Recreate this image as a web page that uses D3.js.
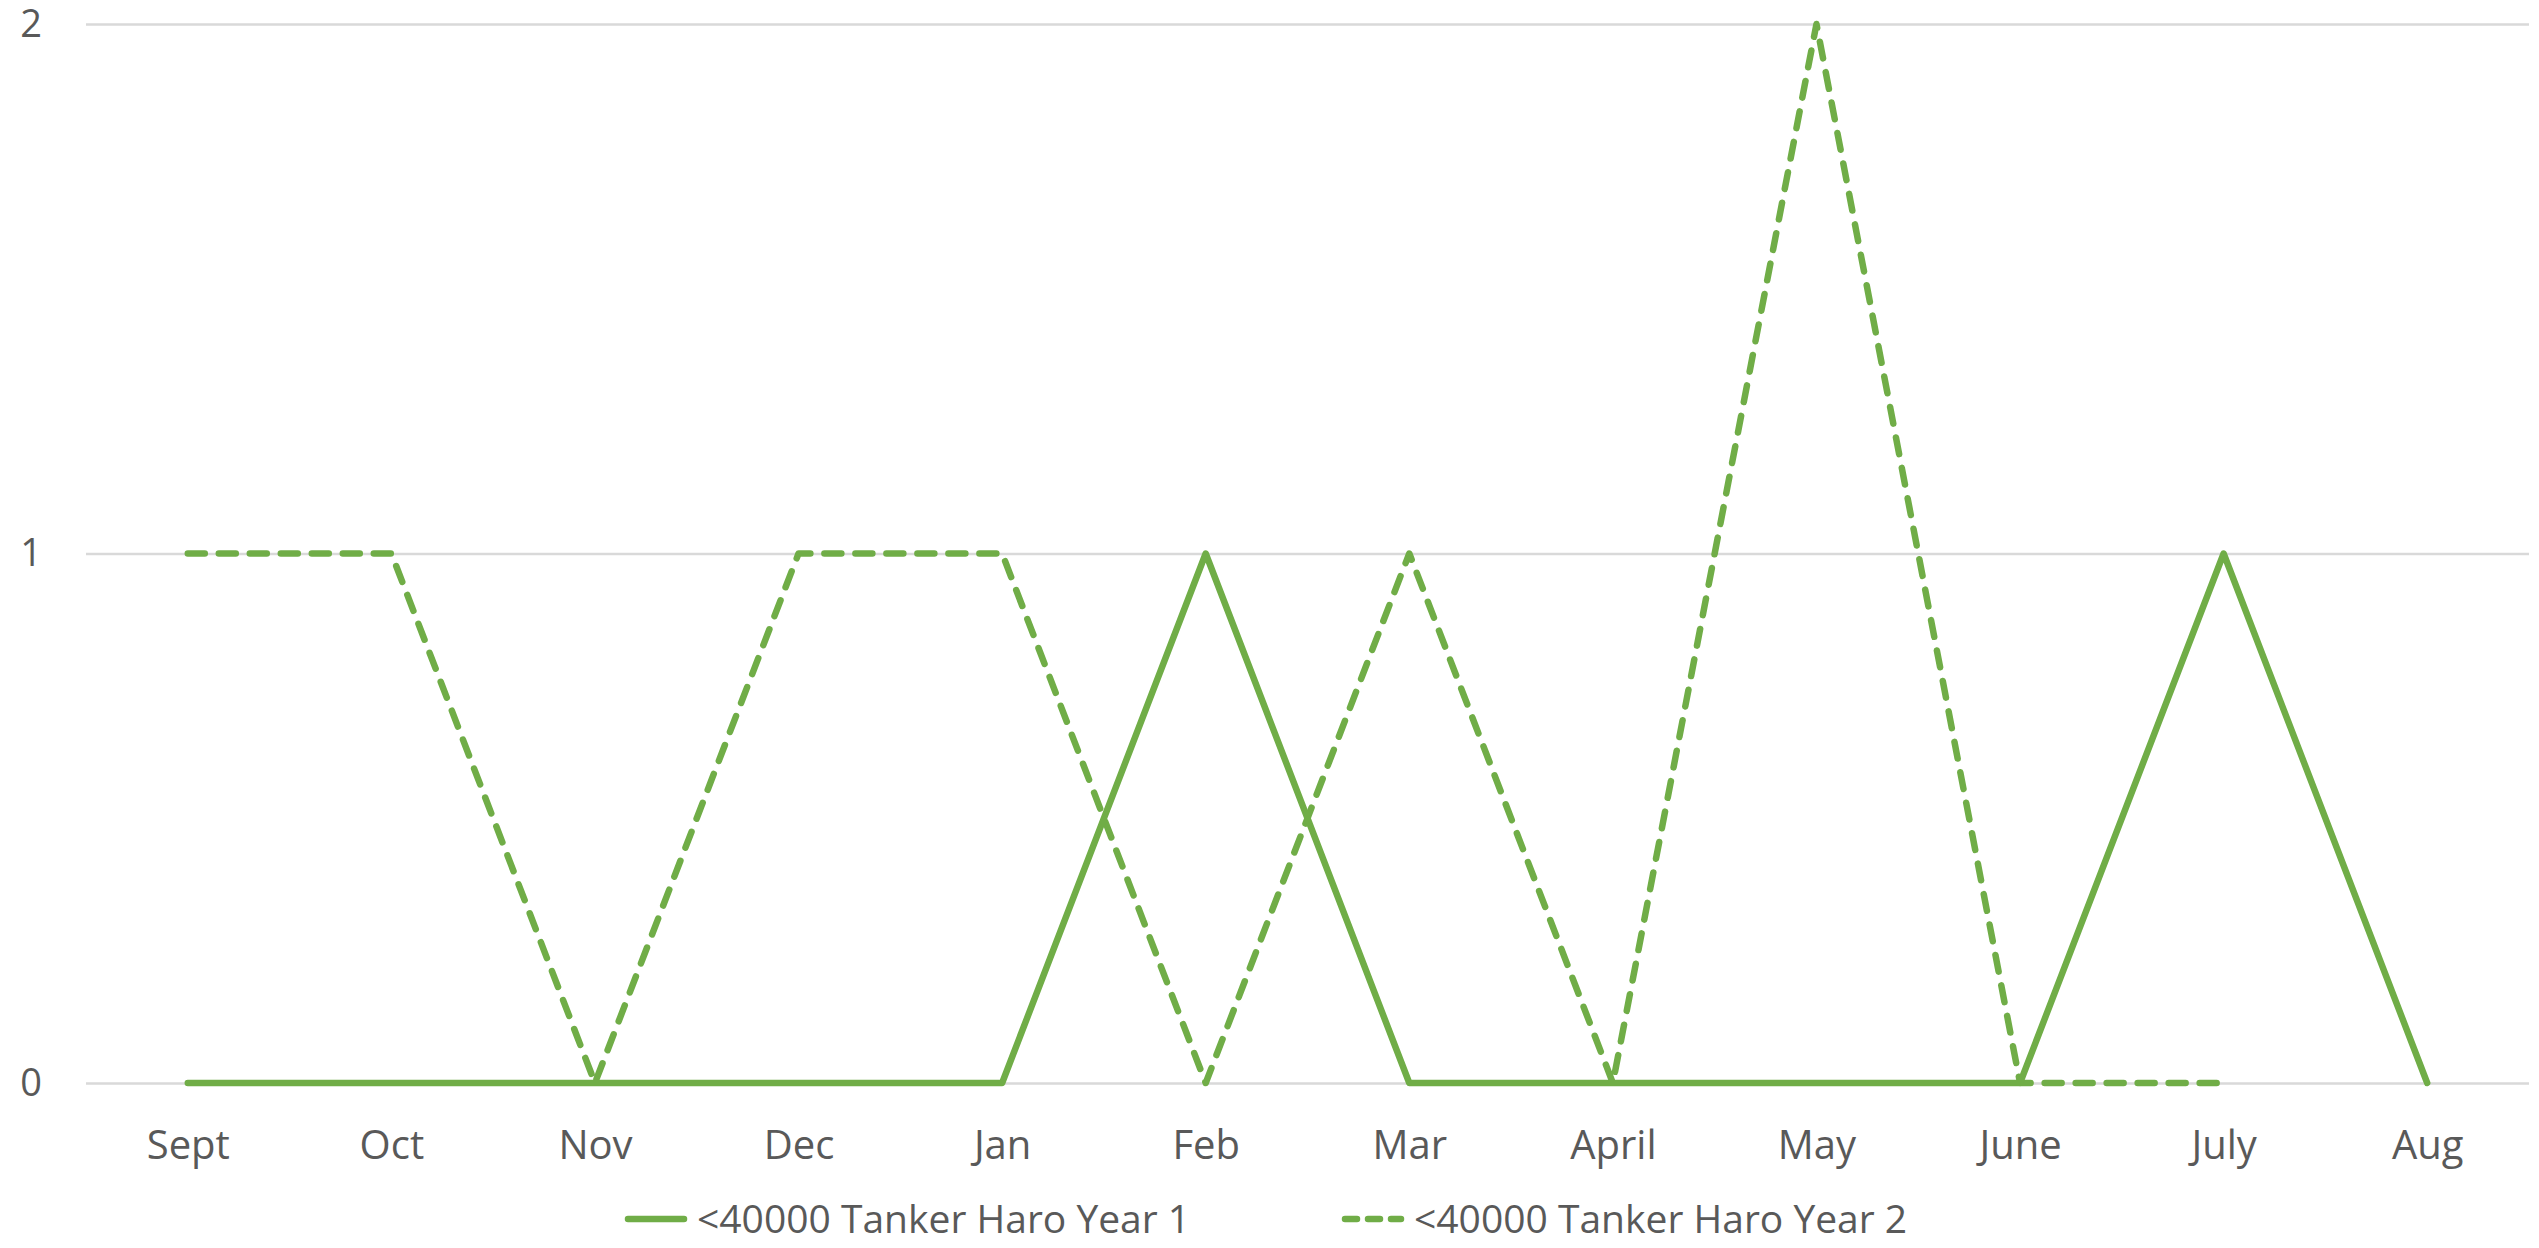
<html>
<head>
    <script src="https://d3js.org/d3.v7.min.js"></script>
</head>
<style>
    body { margin: 0; background: white; }
    .tick text { fill: #595959; }
    .legend text { fill: #595959; }
</style>
<body>
    <svg id="chart" width="2539" height="1248"></svg>

    <script>
        // values
        const months = ["Sept", "Oct", "Nov", "Dec", "Jan", "Feb", "Mar", "April", "May", "June", "July", "Aug"];
        const year1 = [0, 0, 0, 0, 0, 1, 0, 0, 0, 0, 1, 0];
        const year2 = [1, 1, 0, 1, 1, 0, 1, 0, 2, 0, 0, null];
        const seriesNames = ["<40000 Tanker Haro Year 1", "<40000 Tanker Haro Year 2"];
        const yTicks = [0, 1, 2];

        const svg = d3.select("svg#chart");
        const width = +svg.attr("width");
        const height = +svg.attr("height");
        const margins = { top: 24, right: 10, bottom: 165, left: 86 };
        const green = "#70AD47";
        const font = "'Open Sans', sans-serif";

        const x = d3.scalePoint().domain(months)
                    .range([margins.left, width - margins.right]).padding(0.5);
        const y = d3.scaleLinear().domain([0, 2])
                    .range([height - margins.bottom, margins.top]);

        // gridlines + y labels
        const yAxis = svg.append("g")
            .attr("transform", "translate(" + margins.left + ",0)")
            .call(d3.axisLeft(y).tickValues(yTicks).tickFormat(d3.format("d"))
                  .tickSize(-(width - margins.left - margins.right)).tickPadding(44));
        yAxis.attr("font-family", font).attr("font-size", 38);
        yAxis.select(".domain").remove();
        yAxis.selectAll(".tick line").attr("stroke", "#d9d9d9").attr("stroke-width", 2.5);

        // x labels
        const xAxis = svg.append("g")
            .attr("transform", "translate(0," + (height - margins.bottom) + ")")
            .call(d3.axisBottom(x).tickSize(0).tickPadding(48));
        xAxis.attr("font-family", font).attr("font-size", 40);
        xAxis.select(".domain").remove();

        const line = d3.line()
            .defined(d => d.v != null)
            .x(d => x(d.m))
            .y(d => y(d.v));

        const toPts = arr => months.map((m, i) => ({ m: m, v: arr[i] }));

        svg.append("path").datum(toPts(year2))
            .attr("fill", "none").attr("stroke", green).attr("stroke-width", 6.5)
            .attr("stroke-linecap", "round").attr("stroke-linejoin", "round")
            .attr("stroke-dasharray", "17,14")
            .attr("d", line);

        svg.append("path").datum(toPts(year1))
            .attr("fill", "none").attr("stroke", green).attr("stroke-width", 6.5)
            .attr("stroke-linecap", "round").attr("stroke-linejoin", "round")
            .attr("d", line);

        // legend
        const legend = svg.append("g").attr("class", "legend")
            .attr("font-family", font).attr("font-size", 39);
        const legY = 1219;
        const items = [
            { name: seriesNames[0], x0: 625, dash: null },
            { name: seriesNames[1], x0: 1342, dash: "12,11" }
        ];
        items.forEach(it => {
            legend.append("line")
                .attr("x1", it.x0 + 3).attr("x2", it.x0 + 59)
                .attr("y1", legY).attr("y2", legY)
                .attr("stroke", green).attr("stroke-width", 6.5)
                .attr("stroke-linecap", "round")
                .attr("stroke-dasharray", it.dash);
            legend.append("text")
                .attr("x", it.x0 + 72).attr("y", legY)
                .attr("dy", "0.35em")
                .text(it.name);
        });
    </script>
</body>
</html>
